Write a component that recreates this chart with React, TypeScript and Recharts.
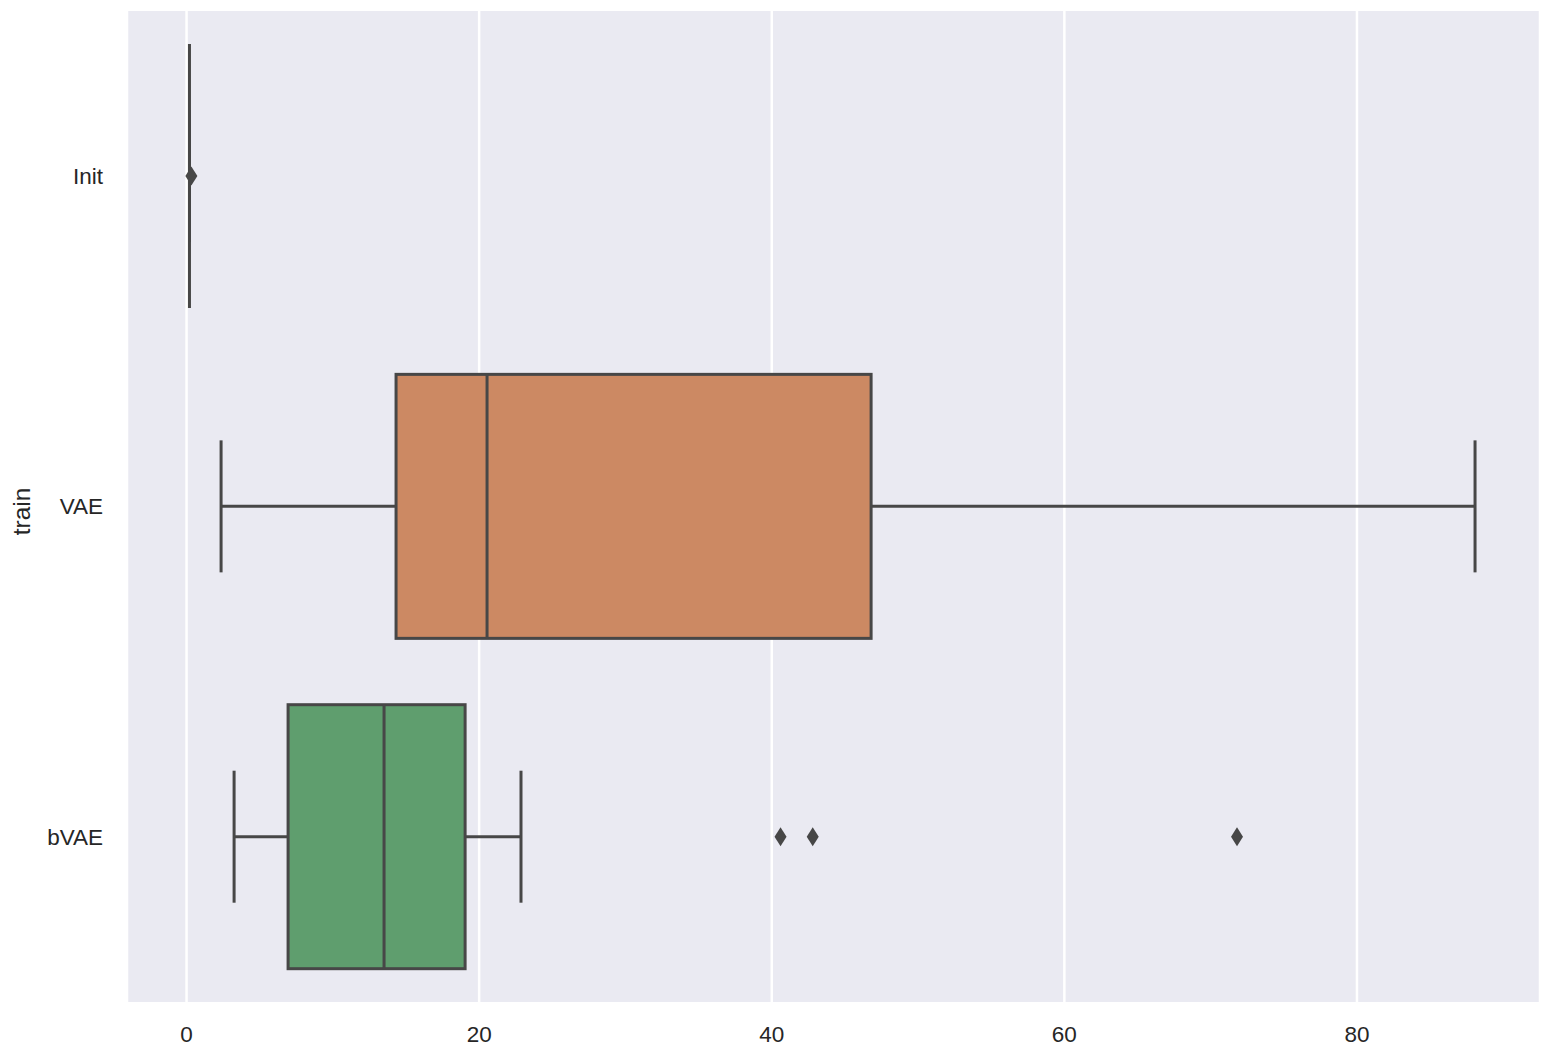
import { Bar, CartesianGrid, ComposedChart, XAxis, YAxis } from "recharts";

/* Horizontal seaborn-style boxplot: one row per training setup. */

const CATEGORIES = ["Init", "VAE", "bVAE"];
const FILLS = ["#5975A4", "#CC8963", "#5F9E6E"];
const WHISKER_LOW = [0.2, 2.36, 3.25];
const Q1 = [0.2, 14.32, 6.94];
const MEDIAN = [0.2, 20.54, 13.5];
const Q3 = [0.2, 46.79, 19.04];
const WHISKER_HIGH = [0.2, 88.07, 22.86];
const OUTLIERS = [[0.33], [], [40.6, 42.8, 71.8]];
const TICKS = [0, 20, 40, 60, 80];

const LINE = "#474747";
const TEXT = "#262626";
const FONT = "'Liberation Sans', Arial, sans-serif";

// span = first..last tick, so the shape can map any value with the axis' own pixels
const data = CATEGORIES.map((name, i) => ({
  name,
  fill: FILLS[i],
  lo: WHISKER_LOW[i],
  q1: Q1[i],
  med: MEDIAN[i],
  q3: Q3[i],
  hi: WHISKER_HIGH[i],
  out: OUTLIERS[i],
  span: [TICKS[0], TICKS[TICKS.length - 1]],
}));

function BoxShape(props: any) {
  const { x, y, width, height, payload } = props;
  const t0 = TICKS[0];
  const t1 = TICKS[TICKS.length - 1];
  const px = (v: number) => x + ((v - t0) / (t1 - t0)) * width;
  const cy = y + height / 2;
  const cap = height / 4;
  const sw = 3;
  return (
    <g>
      <line x1={px(payload.lo)} x2={px(payload.q1)} y1={cy} y2={cy} stroke={LINE} strokeWidth={sw} />
      <line x1={px(payload.q3)} x2={px(payload.hi)} y1={cy} y2={cy} stroke={LINE} strokeWidth={sw} />
      <line x1={px(payload.lo)} x2={px(payload.lo)} y1={cy - cap} y2={cy + cap} stroke={LINE} strokeWidth={sw} />
      <line x1={px(payload.hi)} x2={px(payload.hi)} y1={cy - cap} y2={cy + cap} stroke={LINE} strokeWidth={sw} />
      <rect
        x={px(payload.q1)}
        y={y}
        width={Math.max(0, px(payload.q3) - px(payload.q1))}
        height={height}
        fill={payload.fill}
        stroke={LINE}
        strokeWidth={sw}
      />
      <line x1={px(payload.med)} x2={px(payload.med)} y1={y} y2={y + height} stroke={LINE} strokeWidth={sw} />
      {payload.out.map((v: number, k: number) => {
        const ox = px(v);
        return (
          <polygon
            key={k}
            points={`${ox},${cy - 9.5} ${ox + 6},${cy} ${ox},${cy + 9.5} ${ox - 6},${cy}`}
            fill={LINE}
          />
        );
      })}
    </g>
  );
}

function TrainLabel(props: any) {
  const vb = props.viewBox || { x: 0, y: 0, height: 0 };
  const cx = vb.x + 21;
  const cy = vb.y + vb.height / 2 + 5;
  return (
    <text
      x={cx}
      y={cy}
      transform={`rotate(-90, ${cx}, ${cy})`}
      textAnchor="middle"
      dominantBaseline="central"
      fill={TEXT}
      fontSize={24.5}
      fontFamily={FONT}
    >
      train
    </text>
  );
}

export default function App() {
  return (
    <div style={{ position: "absolute", left: 0, top: 0, width: 1550, height: 1050, background: "#fff" }}>
      <ComposedChart
        width={1550}
        height={1050}
        data={data}
        layout="vertical"
        barCategoryGap="10%"
        margin={{ top: 11, right: 10, bottom: 0, left: 0 }}
      >
        <CartesianGrid horizontal={false} fill="#EAEAF2" stroke="#FFFFFF" strokeWidth={2.5} />
        <XAxis
          type="number"
          domain={[-4.07, 92.51]}
          ticks={TICKS}
          allowDataOverflow
          axisLine={false}
          tickLine={false}
          tickSize={8}
          tickMargin={16}
          height={48}
          tick={{ fontSize: 22.5, fill: TEXT, fontFamily: FONT }}
        />
        <YAxis
          type="category"
          dataKey="name"
          width={127}
          axisLine={false}
          tickLine={false}
          tickSize={8}
          tickMargin={16}
          tick={{ fontSize: 22.5, fill: TEXT, fontFamily: FONT }}
          label={<TrainLabel />}
        />
        <Bar dataKey="span" shape={<BoxShape />} isAnimationActive={false} />
      </ComposedChart>
    </div>
  );
}
